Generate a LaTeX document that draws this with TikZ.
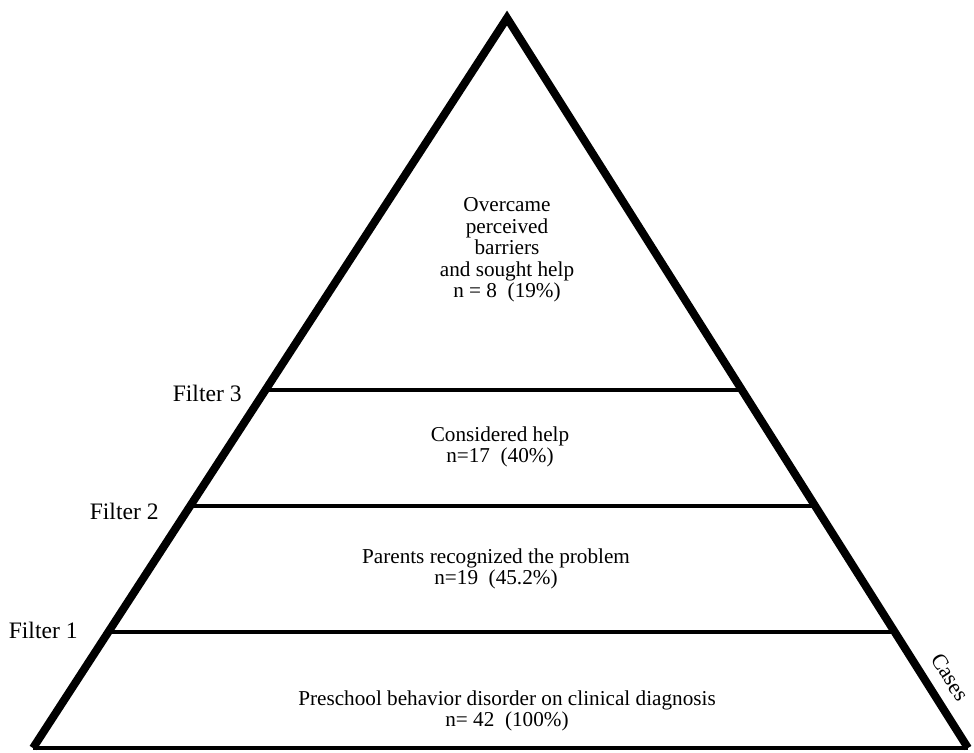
\documentclass[tikz,border=0pt]{standalone}
\usepackage{fontspec}
\setmainfont{Liberation Serif}
\usetikzlibrary{calc}

\tikzset{
    side/.style={line width=4pt, line join=miter},
    filterline/.style={line width=1.6pt},
    layertext/.style={align=center, font=\fontsize{10.6}{10.8}\selectfont, inner sep=0pt},
    filterlabel/.style={anchor=east, font=\fontsize{11.8}{12}\selectfont, inner sep=0pt}
}

\begin{document}
\begin{tikzpicture}[x=0.5pt, y=-0.5pt]
    \useasboundingbox (0,0) rectangle (974,752);

    % Sommets de la pyramide
    \coordinate (apex) at (507,18);
    \coordinate (bl) at (33,748);
    \coordinate (br) at (968,748);

    % Côtés et base
    \draw[side] (bl) -- (apex) -- (br);
    \draw[filterline] (bl) -- (br);

    % Lignes des filtres
    \foreach \t/\n in {0.5096/3, 0.6685/2, 0.8411/1}{
        \draw[filterline] ($(apex)!\t!(bl)$) coordinate (f\n l)
            -- ($(apex)!\t!(br)$) coordinate (f\n r);
    }

    % Légendes des filtres (sur la gauche)
    \node[filterlabel] (lab3) at (242,393) {Filter 3};
    \node[filterlabel] (lab2) at (159,511) {Filter 2};
    \node[filterlabel] (lab1) at (78,630) {Filter 1};

    % Textes des niveaux
    \node[layertext] (top) at (507,250)
        {Overcame\\perceived\\barriers\\and sought help\\n = 8~~(19\%)};
    \node[layertext] (considered) at (500,447) {Considered help\\n=17~~(40\%)};
    \node[layertext] (parents) at (496,569) {Parents recognized the problem\\n=19~~(45.2\%)};
    \node[layertext] (preschool) at (507,711)
        {Preschool behavior disorder on clinical diagnosis\\n= 42~~(100\%)};

    % Légende sur le côté droit
    \node[rotate=-57.7, font=\fontsize{11}{12}\selectfont, inner sep=0pt] (cases) at (950,677) {Cases};

\end{tikzpicture}
\end{document}
